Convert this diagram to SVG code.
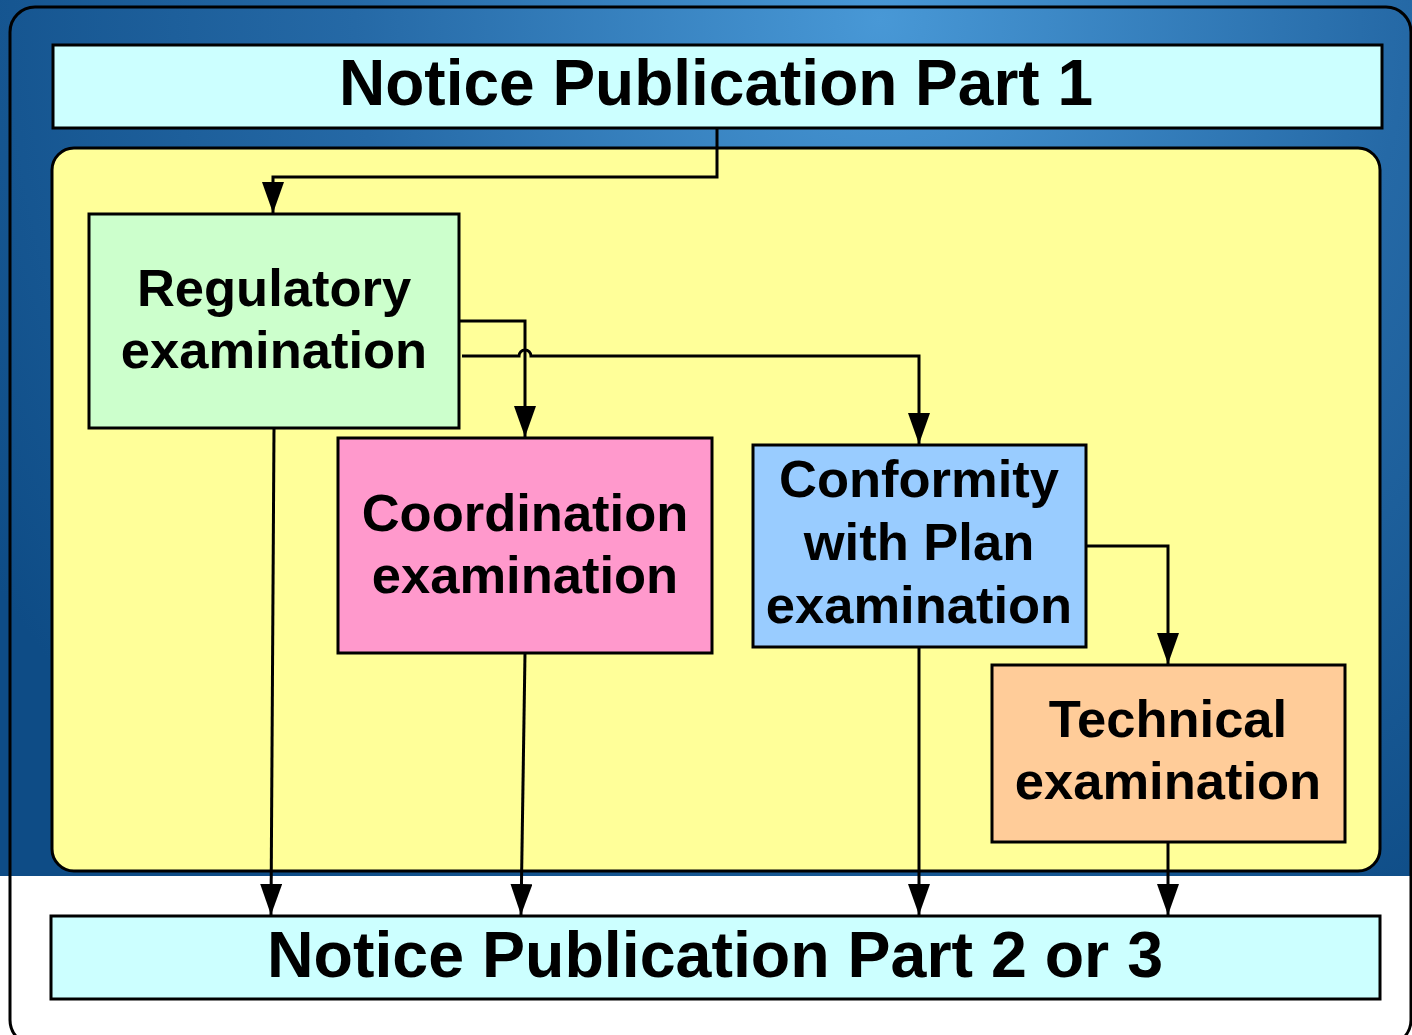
<svg xmlns="http://www.w3.org/2000/svg" width="1412" height="1035" viewBox="0 0 1412 1035">
  <defs>
    <radialGradient id="bg" gradientUnits="userSpaceOnUse" cx="880" cy="20" r="1050">
      <stop offset="0" stop-color="#4898d6"/>
      <stop offset="0.5" stop-color="#2569a6"/>
      <stop offset="1" stop-color="#0e4c86"/>
    </radialGradient>
    <marker id="arr" markerUnits="userSpaceOnUse" markerWidth="31" markerHeight="22" refX="31" refY="11" orient="auto" viewBox="0 0 31 22">
      <path d="M0,0 L31,11 L0,22 Z" fill="#000"/>
    </marker>
  </defs>
  <style>
    .box { stroke: #000; stroke-width: 3; }
    .t { font-family: "Liberation Sans", Arial, sans-serif; font-weight: bold; fill: #000; text-anchor: middle; }
    .title { font-size: 64px; }
    .title2 { font-size: 64.5px; }
    .lbl { font-size: 52.5px; }
    .c { fill: none; stroke: #000; stroke-width: 3; }
  </style>
  <rect x="0" y="0" width="1412" height="876" fill="url(#bg)"/>
  <rect x="0" y="876" width="1412" height="159" fill="#fff"/>
  <rect x="10" y="7" width="1401" height="1038" rx="25" fill="none" stroke="#000" stroke-width="3"/>

  <g id="container">
    <rect x="52" y="148" width="1328" height="723" rx="22" fill="#ffff99" class="box"/>
  </g>

  <g id="notice1">
    <rect x="53" y="45" width="1329" height="83" fill="#ccffff" class="box"/>
    <text x="716" y="105" class="t title">Notice Publication Part 1</text>
  </g>

  <g id="notice23">
    <rect x="51" y="916" width="1329" height="83" fill="#ccffff" class="box"/>
    <text x="715" y="977" class="t title2">Notice Publication Part 2 or 3</text>
  </g>

  <g id="regulatory">
    <rect x="89" y="214" width="370" height="214" fill="#ccffcc" class="box"/>
    <text x="274" y="306" class="t lbl">Regulatory</text>
    <text x="274" y="368" class="t lbl">examination</text>
  </g>

  <g id="coordination">
    <rect x="338" y="438" width="374" height="215" fill="#ff99cc" class="box"/>
    <text x="525" y="531" class="t lbl">Coordination</text>
    <text x="525" y="593" class="t lbl">examination</text>
  </g>

  <g id="conformity">
    <rect x="753" y="445" width="333" height="202" fill="#99ccff" class="box"/>
    <text x="919" y="497" class="t lbl">Conformity</text>
    <text x="919" y="560" class="t lbl">with Plan</text>
    <text x="919" y="623" class="t lbl">examination</text>
  </g>

  <g id="technical">
    <rect x="992" y="665" width="353" height="177" fill="#ffcc99" class="box"/>
    <text x="1168" y="737" class="t lbl">Technical</text>
    <text x="1168" y="799" class="t lbl">examination</text>
  </g>

  <g id="connectors">
    <path class="c" d="M717,128 V177 H273 V213" marker-end="url(#arr)"/>
    <path class="c" d="M459,321 H525 V437" marker-end="url(#arr)"/>
    <path class="c" d="M462,356 H519 A6,6 0 0 1 531,356 H919 V444" marker-end="url(#arr)"/>
    <path class="c" d="M1086,546 H1168 V664" marker-end="url(#arr)"/>
    <path class="c" d="M274,428 L271,915" marker-end="url(#arr)"/>
    <path class="c" d="M525,653 L521,915" marker-end="url(#arr)"/>
    <path class="c" d="M919,647 V915" marker-end="url(#arr)"/>
    <path class="c" d="M1168,842 V915" marker-end="url(#arr)"/>
  </g>
</svg>
